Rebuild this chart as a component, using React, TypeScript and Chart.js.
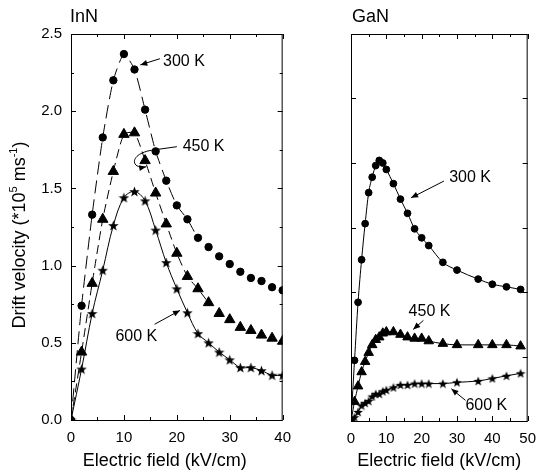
import React, { useEffect, useRef } from "react";
import { Chart, registerables } from "chart.js";
Chart.register(...registerables);

const FONT = "'Liberation Sans', Arial, sans-serif";

// ---------- InN data ----------
const innField = [0, 2, 4, 6, 8, 10, 12, 14, 16, 18, 20, 22, 24, 26, 28, 30, 32, 34, 36, 38, 40];
const inn300K = [0, 0.74, 1.33, 1.83, 2.2, 2.37, 2.27, 2.01, 1.74, 1.55, 1.39, 1.3, 1.18, 1.12, 1.06, 1.01, 0.96, 0.92, 0.9, 0.86, 0.84];
const inn450K = [0, 0.44, 0.885, 1.3, 1.61, 1.85, 1.86, 1.68, 1.47, 1.27, 1.08, 0.93, 0.85, 0.76, 0.69, 0.65, 0.6, 0.58, 0.55, 0.53, 0.51];
const inn600K = [0, 0.33, 0.69, 0.97, 1.26, 1.44, 1.48, 1.42, 1.23, 1.02, 0.85, 0.695, 0.56, 0.5, 0.44, 0.39, 0.34, 0.34, 0.32, 0.29, 0.29];

// ---------- GaN data ----------
const ganField = [0, 1, 2, 3, 4, 5, 6, 7, 8, 9, 10, 12, 14, 16, 18, 20, 22, 26, 30, 36, 40, 44, 48];
const gan300K = [0, 0.47, 0.92, 1.25, 1.53, 1.77, 1.89, 1.98, 2.02, 2.0, 1.95, 1.84, 1.72, 1.61, 1.49, 1.42, 1.36, 1.23, 1.17, 1.1, 1.06, 1.04, 1.02];
const gan450K = [0, 0.15, 0.27, 0.38, 0.46, 0.53, 0.59, 0.63, 0.65, 0.68, 0.69, 0.69, 0.67, 0.65, 0.64, 0.64, 0.62, 0.6, 0.59, 0.59, 0.59, 0.59, 0.58];
const gan600K = [0, 0.03, 0.07, 0.12, 0.14, 0.155, 0.19, 0.21, 0.21, 0.23, 0.24, 0.26, 0.28, 0.28, 0.29, 0.29, 0.29, 0.29, 0.3, 0.31, 0.33, 0.35, 0.37];

const xTitle = "Electric field (kV/cm)";

function starImage(size: number): HTMLCanvasElement {
  const c = document.createElement("canvas");
  c.width = size;
  c.height = size;
  const g = c.getContext("2d")!;
  const cx = size / 2, cy = size / 2 + 0.5;
  const ro = size / 2, ri = ro * 0.42;
  g.beginPath();
  for (let i = 0; i < 10; i++) {
    const r = i % 2 === 0 ? ro : ri;
    const a = -Math.PI / 2 + (i * Math.PI) / 5;
    const px = cx + r * Math.cos(a), py = cy + r * Math.sin(a);
    if (i === 0) g.moveTo(px, py); else g.lineTo(px, py);
  }
  g.closePath();
  g.fillStyle = "#000";
  g.fill();
  return c;
}

const toXY = (xs: number[], ys: number[]) => xs.map((x, i) => ({ x, y: ys[i] }));

type Note = {
  text: string;
  tx: number; ty: number;
  path: number[][];
  curve?: boolean;
};

function arrowHead(ctx: CanvasRenderingContext2D, x0: number, y0: number, x1: number, y1: number) {
  const a = Math.atan2(y1 - y0, x1 - x0);
  const L = 7, W = 3;
  ctx.beginPath();
  ctx.moveTo(x1, y1);
  ctx.lineTo(x1 - L * Math.cos(a) + W * Math.sin(a), y1 - L * Math.sin(a) - W * Math.cos(a));
  ctx.lineTo(x1 - L * Math.cos(a) - W * Math.sin(a), y1 - L * Math.sin(a) + W * Math.cos(a));
  ctx.closePath();
  ctx.fill();
}

function makePlugin(opts: { title: string; titleX: number; notes: Note[]; yTitle: boolean; yMinorTicks: boolean; xMinor: number; yMinor: number; xTitleShift: number }) {
  return {
    id: "frameAndNotes",
    afterDraw(chart: any) {
      const ctx: CanvasRenderingContext2D = chart.ctx;
      const { left, right, top, bottom } = chart.chartArea;
      const xs = chart.scales.x, ys = chart.scales.y;
      ctx.save();
      ctx.strokeStyle = "#000";
      ctx.fillStyle = "#000";
      ctx.lineWidth = 1;
      ctx.strokeRect(left + 0.5, top + 0.5, right - left - 1, bottom - top);
      for (let v = xs.min; v <= xs.max + 1e-9; v += opts.xMinor) {
        const px = Math.round(xs.getPixelForValue(v)) + 0.5;
        const major = Math.abs(v / (opts.xMinor * 2) - Math.round(v / (opts.xMinor * 2))) < 1e-6;
        const len = major ? 5 : 3;
        ctx.beginPath();
        ctx.moveTo(px, bottom); ctx.lineTo(px, bottom - len);
        ctx.moveTo(px, top); ctx.lineTo(px, top + len);
        ctx.stroke();
      }
      for (let v = ys.min; v <= ys.max + 1e-9; v += opts.yMinor) {
        const py = Math.round(ys.getPixelForValue(v)) + 0.5;
        const major = !opts.yMinorTicks || Math.abs(v / (opts.yMinor * 2) - Math.round(v / (opts.yMinor * 2))) < 1e-6;
        const len = major ? 5 : 3;
        ctx.beginPath();
        ctx.moveTo(left, py); ctx.lineTo(left + len, py);
        ctx.moveTo(right, py); ctx.lineTo(right - len, py);
        ctx.stroke();
      }
      ctx.font = `18px ${FONT}`;
      ctx.textBaseline = "middle";
      ctx.textAlign = "left";
      ctx.fillText(opts.title, opts.titleX, 17);
      ctx.font = `18px ${FONT}`;
      ctx.textAlign = "center";
      ctx.fillText(xTitle, (left + right) / 2 + opts.xTitleShift, 461);
      if (opts.yTitle) {
        ctx.save();
        ctx.translate(20, 235);
        ctx.rotate(-Math.PI / 2);
        const parts: [string, boolean][] = [["Drift velocity (*10", false], ["5", true], [" ms", false], ["-1", true], [")", false]];
        const big = `18px ${FONT}`, small = `11px ${FONT}`;
        let total = 0;
        for (const [t, s] of parts) { ctx.font = s ? small : big; total += ctx.measureText(t).width; }
        let x = -total / 2;
        ctx.textAlign = "left";
        ctx.textBaseline = "middle";
        for (const [t, s] of parts) {
          ctx.font = s ? small : big;
          ctx.fillText(t, x, s ? -6 : 0);
          x += ctx.measureText(t).width;
        }
        ctx.restore();
      }
      ctx.font = `16px ${FONT}`;
      ctx.textAlign = "left";
      ctx.textBaseline = "middle";
      ctx.lineWidth = 1;
      for (const n of opts.notes) {
        ctx.fillText(n.text, xs.getPixelForValue(n.tx), ys.getPixelForValue(n.ty));
        const pts = n.path.map(([a, b]) => [xs.getPixelForValue(a), ys.getPixelForValue(b)]);
        ctx.beginPath();
        ctx.moveTo(pts[0][0], pts[0][1]);
        if (n.curve) {
          ctx.lineTo(pts[1][0], pts[1][1]);
          ctx.bezierCurveTo(pts[2][0], pts[2][1], pts[3][0], pts[3][1], pts[4][0], pts[4][1]);
        } else {
          for (let i = 1; i < pts.length; i++) ctx.lineTo(pts[i][0], pts[i][1]);
        }
        ctx.stroke();
        const e = pts[pts.length - 1], p = pts[pts.length - 2];
        arrowHead(ctx, p[0], p[1], e[0], e[1]);
      }
      ctx.restore();
    },
  };
}

const innNotes: Note[] = [
  { text: "300 K", tx: 17.4, ty: 2.32, path: [[16.8, 2.34], [13.1, 2.3]] },
  { text: "450 K", tx: 21.1, ty: 1.77, curve: true, path: [[20.0, 1.77], [15.8, 1.75], [10.8, 1.73], [11.2, 1.62], [14.2, 1.64]] },
  { text: "600 K", tx: 8.4, ty: 0.54, path: [[15.8, 0.62], [20.6, 0.71]] },
];
const ganNotes: Note[] = [
  { text: "300 K", tx: 27.8, ty: 1.89, path: [[26.3, 1.86], [17.0, 1.73]] },
  { text: "450 K", tx: 16.3, ty: 0.85, path: [[20.5, 0.78], [17.6, 0.71]] },
  { text: "600 K", tx: 32.4, ty: 0.12, path: [[32.4, 0.16], [28.4, 0.25]] },
];

function baseScales(xMax: number, yMax: number, showY: boolean, yWidth: number, xHeight: number) {
  const tickFont = { family: FONT, size: 15 };
  return {
    x: {
      type: "linear",
      min: 0,
      max: xMax,
      grid: { display: false, drawTicks: false },
      border: { display: false },
      ticks: { stepSize: 10, color: "#000", font: tickFont, padding: 9, maxRotation: 0 },
      afterFit: (s: any) => { s.height = xHeight; },
    },
    y: {
      type: "linear",
      min: 0,
      max: yMax,
      grid: { display: false, drawTicks: false },
      border: { display: false },
      ticks: {
        display: showY,
        stepSize: 0.5,
        color: "#000",
        font: tickFont,
        padding: 9,
        callback: (v: any) => Number(v).toFixed(1),
      },
      afterFit: (s: any) => { s.width = yWidth; },
    },
  };
}

export default function App() {
  const leftRef = useRef<HTMLCanvasElement>(null);
  const rightRef = useRef<HTMLCanvasElement>(null);

  useEffect(() => {
    const star = starImage(11);
    const starSmall = starImage(10);
    const hideAfter = (lim: number) => (c: any) => (c.p0.parsed.x >= lim ? "rgba(0,0,0,0)" : "#000");

    const left = new Chart(leftRef.current!, {
      type: "line",
      data: {
        datasets: [
          {
            data: toXY(innField, inn300K),
            borderColor: "#000", backgroundColor: "#000", borderWidth: 1,
            borderDash: [13, 6], pointStyle: "circle", pointRadius: 3.7, tension: 0.2,
            segment: { borderColor: hideAfter(24) },
          },
          {
            data: toXY(innField, inn450K),
            borderColor: "#000", backgroundColor: "#000", borderWidth: 1,
            borderDash: [9, 5], pointStyle: "triangle", pointRadius: 6, tension: 0.2,
            segment: { borderColor: hideAfter(26) },
          },
          {
            data: toXY(innField, inn600K),
            borderColor: "#000", backgroundColor: "#000", borderWidth: 1,
            pointStyle: star as any, pointRadius: 5, tension: 0.35,
          },
        ],
      },
      options: {
        animation: false,
        responsive: false,
        devicePixelRatio: 1,
        layout: { padding: { left: 0, top: 34, right: 11, bottom: 0 } },
        plugins: { legend: { display: false }, tooltip: { enabled: false } },
        scales: baseScales(40, 2.5, true, 71, 53) as any,
      },
      plugins: [makePlugin({ title: "InN", titleX: 70, notes: innNotes, yTitle: true, yMinorTicks: true, xMinor: 5, yMinor: 0.25, xTitleShift: -12 })],
    });

    const right = new Chart(rightRef.current!, {
      type: "line",
      data: {
        datasets: [
          {
            data: toXY(ganField, gan300K),
            borderColor: "#000", backgroundColor: "#000", borderWidth: 1,
            pointStyle: "circle", pointRadius: 3.4, tension: 0.35, cubicInterpolationMode: "monotone",
          },
          {
            data: toXY(ganField, gan450K),
            borderColor: "#000", backgroundColor: "#000", borderWidth: 1,
            pointStyle: "triangle", pointRadius: 5.5, tension: 0.35, cubicInterpolationMode: "monotone",
          },
          {
            data: toXY(ganField, gan600K),
            borderColor: "#000", backgroundColor: "#000", borderWidth: 1,
            pointStyle: starSmall as any, pointRadius: 5, tension: 0.35, cubicInterpolationMode: "monotone",
          },
        ],
      },
      options: {
        animation: false,
        responsive: false,
        devicePixelRatio: 1,
        layout: { padding: { left: 0, top: 34, right: 6, bottom: 0 } },
        plugins: { legend: { display: false }, tooltip: { enabled: false } },
        scales: baseScales(50, 3, false, 51, 52) as any,
      },
      plugins: [makePlugin({ title: "GaN", titleX: 52, notes: ganNotes, yTitle: false, yMinorTicks: false, xMinor: 5, yMinor: 0.5, xTitleShift: 0 })],
    });

    return () => {
      left.destroy();
      right.destroy();
    };
  }, []);

  return (
    <div style={{ position: "fixed", left: 0, top: 0, width: 545, height: 473, background: "#fff" }}>
      <canvas ref={leftRef} width={300} height={473} style={{ position: "absolute", left: 0, top: 0, width: 300, height: 473 }} />
      <canvas ref={rightRef} width={245} height={473} style={{ position: "absolute", left: 300, top: 0, width: 245, height: 473 }} />
    </div>
  );
}
